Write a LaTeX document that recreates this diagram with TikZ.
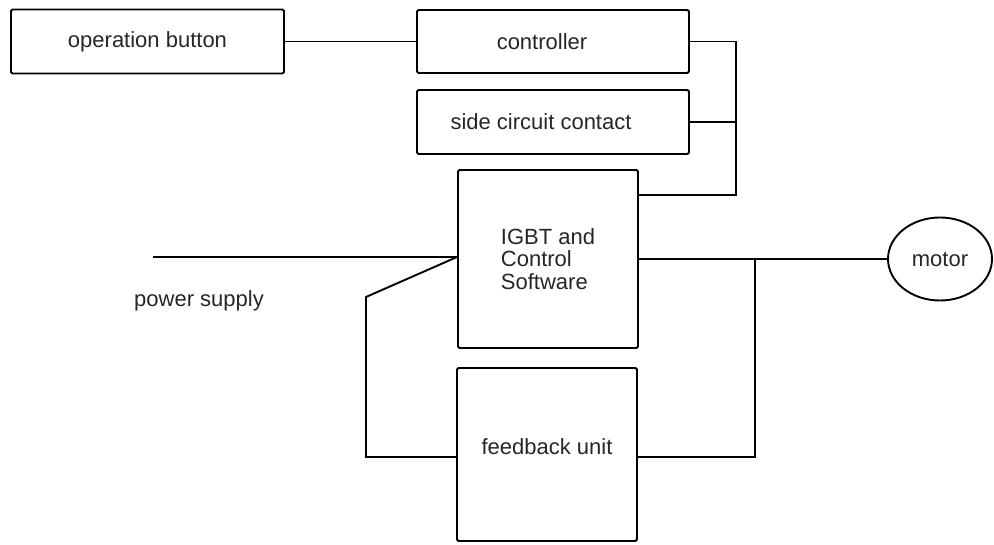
\documentclass[tikz,border=0pt]{standalone}
\usepackage{fontspec}
\setmainfont{Liberation Sans}
\usetikzlibrary{shapes.geometric}
\begin{document}
\begin{tikzpicture}[x=1pt,y=-1pt,line width=1.9pt,
  font=\fontsize{22}{22.5}\selectfont,
  blk/.style={draw,rounded corners=1.5pt,inner sep=0pt,text=black!85},
  lbl/.style={text=black!85}]
  \useasboundingbox (0,0) rectangle (994,545);
  % boxes
  \node[blk,minimum width=273,minimum height=64] (btn) at (147.5,41.5) {operation button};
  \node[blk,minimum width=272,minimum height=63,label={[lbl,xshift=-11pt]center:controller}] (ctrl) at (553,41.5) {};
  \node[blk,minimum width=272,minimum height=64,label={[lbl,xshift=-12pt]center:side circuit contact}] (side) at (553,122) {};
  \node[blk,minimum width=180,minimum height=178,align=left] (igbt) at (548,259) {IGBT and\\Control\\Software};
  \node[blk,minimum width=180,minimum height=173,label={[lbl,yshift=8pt]center:feedback unit}] (fb) at (547,454.5) {};
  \node[draw,ellipse,minimum width=104,minimum height=83,inner sep=0pt,text=black!85] (motor) at (940,259) {motor};
  \node[lbl] (pslbl) at (199,301) {power supply};
  % wiring
  \coordinate (psin) at (153,257);
  \coordinate (tap) at (736,195);
  \coordinate (bend) at (366,297);
  \coordinate (tap2) at (755,259);
  \draw (btn.east) -- (ctrl.west);
  \draw (ctrl.east) -| (tap) -- (tap -| igbt.east);
  \draw (side.east) -- (side.east -| tap);
  \draw (psin) -- (psin -| igbt.west);
  \draw (psin -| igbt.west) -- (bend) |- ([yshift=-2.5pt]fb.west);
  \draw (igbt.east) -- (motor.west);
  \draw (tap2) |- ([yshift=-2.5pt]fb.east);
\end{tikzpicture}
\end{document}
